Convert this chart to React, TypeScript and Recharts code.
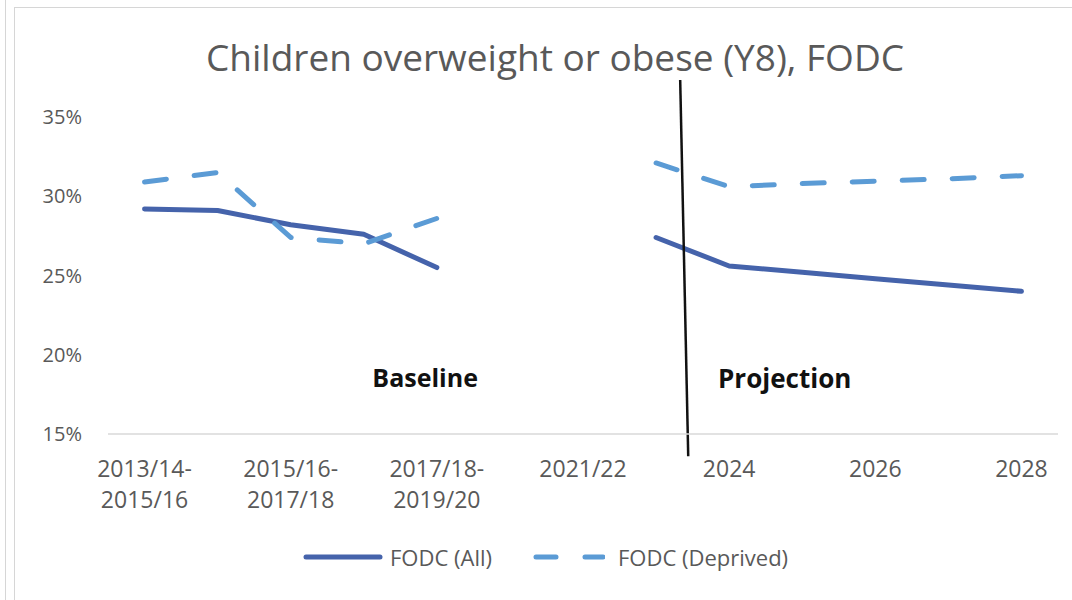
import { LineChart, Line, XAxis, YAxis, ReferenceLine, ReferenceDot, Legend } from 'recharts';

const categories = [
  '2013/14-2015/16',
  '2014/15-2016/17',
  '2015/16-2017/18',
  '2016/17-2018/19',
  '2017/18-2019/20',
  '2020/21',
  '2021/22',
  '2023',
  '2024',
  '2025',
  '2026',
  '2027',
  '2028',
];
const fodcAll = [29.2, 29.1, 28.2, 27.6, 25.5, null, null, 27.4, 25.6, 25.2, 24.8, 24.4, 24.0];
const fodcDeprived = [30.9, 31.5, 27.4, 27.0, 28.6, null, null, 32.1, 30.6, 30.8, 30.95, 31.1, 31.3];
const xTicks = [0, 2, 4, 6, 8, 10, 12];
const yTicks = [15, 20, 25, 30, 35];

const data = categories.map((label, idx) => ({
  idx,
  label,
  all: fodcAll[idx],
  deprived: fodcDeprived[idx],
}));

const FONT = '"Open Sans", sans-serif';
const GREY = '#595959';
const DARK_BLUE = '#4563ab';
const LIGHT_BLUE = '#5b9bd5';

function CategoryTick(props: any) {
  const { x, y, payload } = props;
  const label = categories[payload.value] ?? '';
  const parts = label.includes('-') ? [label.slice(0, label.indexOf('-') + 1), label.slice(label.indexOf('-') + 1)] : [label];
  return (
    <text x={x} textAnchor="middle" fill={GREY} fontSize={23} fontFamily={FONT}>
      {parts.map((p, i) => (
        <tspan key={i} x={x} y={y + 43 + i * 31}>
          {p}
        </tspan>
      ))}
    </text>
  );
}

function LegendContent() {
  return (
    <div style={{ position: 'relative', height: 30, fontFamily: FONT, fontSize: 22, color: GREY }}>
      <svg style={{ position: 'absolute', left: 303, top: 10 }} width={80} height={10}>
        <line x1={3} x2={77} y1={5} y2={5} stroke={DARK_BLUE} strokeWidth={5} strokeLinecap="round" />
      </svg>
      <span style={{ position: 'absolute', left: 390, top: 0, lineHeight: '30px' }}>FODC (All)</span>
      <svg style={{ position: 'absolute', left: 533, top: 10 }} width={72} height={10}>
        <line x1={3} x2={70} y1={5} y2={5} stroke={LIGHT_BLUE} strokeWidth={5} strokeLinecap="round" strokeDasharray="20 29" />
      </svg>
      <span style={{ position: 'absolute', left: 618, top: 0, lineHeight: '30px' }}>FODC (Deprived)</span>
    </div>
  );
}

export default function App() {
  return (
    <div style={{ position: 'absolute', left: 0, top: 0, width: 1072, height: 600, background: '#fff', overflow: 'hidden' }}>
      <div style={{ position: 'absolute', left: 5, top: 0, width: 1, height: 600, background: '#d6d6d6' }} />
      <div style={{ position: 'absolute', left: 14, top: 7, width: 1, height: 593, background: '#d6d6d6' }} />
      <div style={{ position: 'absolute', left: 14, top: 7, width: 1058, height: 1, background: '#d6d6d6' }} />
      <div
        style={{
          position: 'absolute',
          left: 155,
          top: 39,
          width: 800,
          textAlign: 'center',
          fontFamily: FONT,
          fontSize: 37,
          lineHeight: '36px',
          color: GREY,
          whiteSpace: 'nowrap',
        }}
      >
        Children overweight or obese (Y8), FODC
      </div>
      <LineChart width={1072} height={600} data={data} margin={{ top: 117, right: 14, bottom: 10, left: 48 }}>
        <XAxis
          type="number"
          dataKey="idx"
          domain={[-0.5, 12.5]}
          ticks={xTicks}
          interval={0}
          height={126}
          tickLine={false}
          tickSize={0}
          tickMargin={0}
          axisLine={{ stroke: '#d9d9d9', strokeWidth: 1.5 }}
          tick={<CategoryTick />}
        />
        <YAxis
          domain={[15, 35]}
          ticks={yTicks}
          width={60}
          axisLine={false}
          tickLine={false}
          tickSize={0}
          tickMargin={26}
          tickFormatter={(v) => `${v}%`}
          tick={{ fill: GREY, fontSize: 20, fontFamily: FONT }}
        />
        <Legend verticalAlign="bottom" content={<LegendContent />} wrapperStyle={{ left: 0, top: 542, width: 1072, height: 30 }} />
        <Line
          dataKey="all"
          name="FODC (All)"
          type="linear"
          stroke={DARK_BLUE}
          strokeWidth={5}
          strokeLinecap="round"
          strokeLinejoin="round"
          dot={false}
          activeDot={false}
          isAnimationActive={false}
        />
        <Line
          dataKey="deprived"
          name="FODC (Deprived)"
          type="linear"
          stroke={LIGHT_BLUE}
          strokeWidth={5}
          strokeDasharray="22 28"
          strokeLinecap="round"
          strokeLinejoin="round"
          dot={false}
          activeDot={false}
          isAnimationActive={false}
        />
        <ReferenceLine
          segment={[
            { x: 7.33, y: 37.33 },
            { x: 7.44, y: 13.6 },
          ]}
          stroke="#111"
          strokeWidth={2.5}
          ifOverflow="visible"
        />
        <ReferenceDot
          x={3.84}
          y={18.5}
          r={0}
          fill="none"
          stroke="none"
          label={{ value: 'Baseline', position: 'center', fill: '#111', fontSize: 25, fontWeight: 700, fontFamily: FONT }}
        />
        <ReferenceDot
          x={8.76}
          y={18.5}
          r={0}
          fill="none"
          stroke="none"
          label={{ value: 'Projection', position: 'center', fill: '#111', fontSize: 26, fontWeight: 700, fontFamily: FONT }}
        />
      </LineChart>
    </div>
  );
}
